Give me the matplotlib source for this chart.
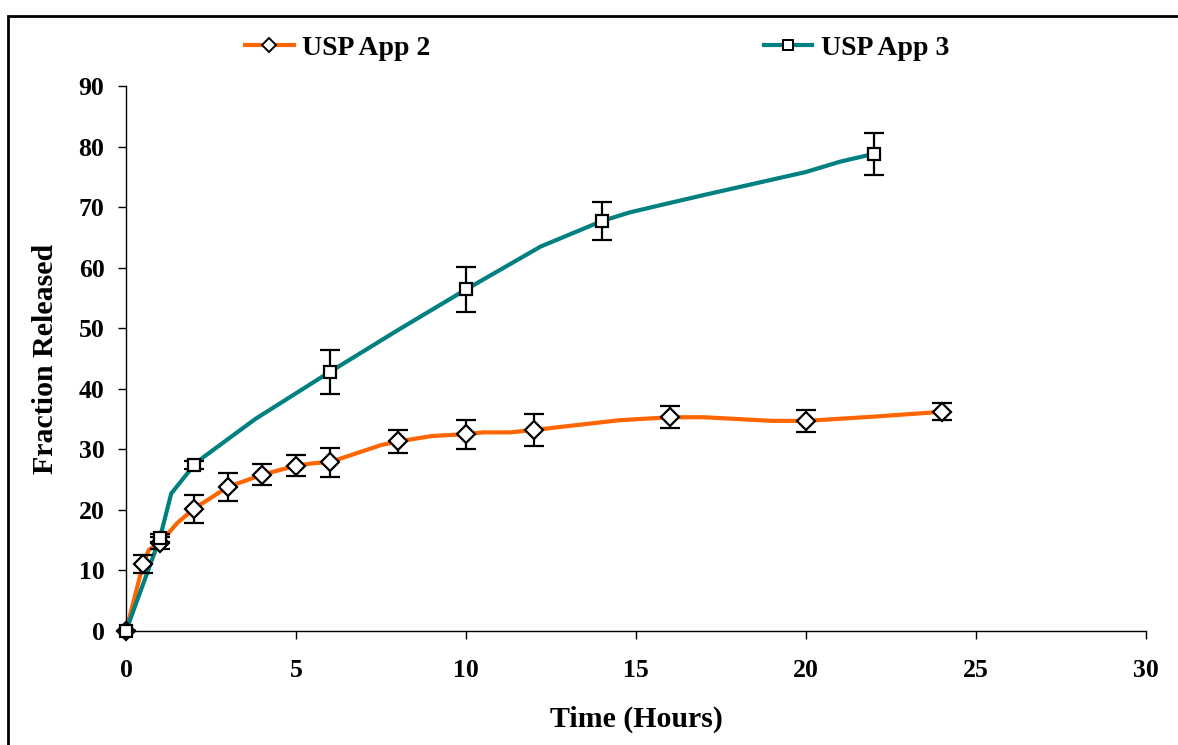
import matplotlib
matplotlib.use("Agg")
import matplotlib.pyplot as plt
from matplotlib.patches import Rectangle
from matplotlib.lines import Line2D

plt.rcParams['font.family'] = ['Liberation Serif', 'DejaVu Serif']
plt.rcParams['font.weight'] = 'bold'

# Smoothed release curves (hours, fraction released)
app2_curve_t = [0, 0.5, 0.67, 1, 1.5, 2, 3, 4, 5, 5.5, 6, 7.5, 8, 9, 10, 10.5, 11.3, 12, 14.5, 16, 17, 19, 20, 22, 24]
app2_curve_y = [0, 11.0, 13.4, 14.5, 17.8, 20.2, 23.8, 25.8, 27.3, 27.7, 27.9, 30.7, 31.3, 32.2, 32.5, 32.8, 32.8, 33.2, 34.8, 35.3, 35.3, 34.7, 34.7, 35.4, 36.2]

app3_curve_t = [0, 1, 1.33, 2, 2.3, 3.8, 6, 8, 10, 12.2, 14, 14.8, 15.7, 17, 20, 21, 22]
app3_curve_y = [0, 15.4, 22.7, 27.4, 28.8, 35.0, 42.8, 49.7, 56.4, 63.5, 67.7, 69.1, 70.3, 72.0, 75.8, 77.5, 78.8]

# Sampled points with standard deviations
app2_t = [0, 0.5, 1, 2, 3, 4, 5, 6, 8, 10, 12, 16, 20, 24]
app2_mean = [0, 11.0, 14.5, 20.2, 23.8, 25.8, 27.3, 27.9, 31.3, 32.5, 33.2, 35.3, 34.7, 36.2]
app2_sd = [0, 1.5, 1.0, 2.3, 2.3, 1.7, 1.75, 2.4, 1.95, 2.4, 2.7, 1.85, 1.85, 1.4]

app3_t = [0, 1, 2, 6, 10, 14, 22]
app3_mean = [0, 15.4, 27.4, 42.8, 56.4, 67.7, 78.8]
app3_sd = [0, 0.7, 0.7, 3.6, 3.65, 3.2, 3.5]

x_ticks = [0, 5, 10, 15, 20, 25, 30]
y_ticks = [0, 10, 20, 30, 40, 50, 60, 70, 80, 90]

orange = '#FF6600'
teal = '#008080'

fig = plt.figure(figsize=(11.78, 7.45), dpi=100)
fig.patches.append(Rectangle((8 / 1178, -0.05), 1.1, 1 - 16 / 745 + 0.05,
                             transform=fig.transFigure, fill=False,
                             edgecolor='black', linewidth=2, zorder=0))

ax = fig.add_axes([126 / 1178, 1 - 631 / 745, 1020 / 1178, 545 / 745])

ax.plot(app2_curve_t, app2_curve_y, color=orange, lw=3, zorder=2, solid_capstyle='round')
ax.plot(app3_curve_t, app3_curve_y, color=teal, lw=3, zorder=2, solid_capstyle='round')

ax.errorbar(app2_t, app2_mean, yerr=app2_sd, fmt='none', ecolor='black',
            elinewidth=1.6, capsize=7, capthick=1.6, zorder=3)
ax.errorbar(app3_t, app3_mean, yerr=app3_sd, fmt='none', ecolor='black',
            elinewidth=1.6, capsize=7, capthick=1.6, zorder=3)

ax.plot(app2_t, app2_mean, linestyle='none', marker='D', markersize=9.5,
        markerfacecolor='white', markeredgecolor='black', markeredgewidth=1.6,
        zorder=4, clip_on=False)
ax.plot(app3_t, app3_mean, linestyle='none', marker='s', markersize=9,
        markerfacecolor='white', markeredgecolor='black', markeredgewidth=1.6,
        zorder=5, clip_on=False)

ax.set_xlim(0, 30)
ax.set_ylim(0, 90)
ax.set_xticks(x_ticks)
ax.set_yticks(y_ticks)
ax.tick_params(direction='out', length=6, width=1, labelsize=18.5)
ax.tick_params(axis='x', pad=14)
ax.tick_params(axis='y', pad=9.5)
for lab in ax.get_xticklabels() + ax.get_yticklabels():
    lab.set_fontweight('bold')
ax.spines['top'].set_visible(False)
ax.spines['right'].set_visible(False)
ax.spines['left'].set_linewidth(1)
ax.spines['bottom'].set_linewidth(1)

ax.set_xlabel('Time (Hours)', fontsize=21.5, fontweight='bold', labelpad=17)
ax.set_ylabel('Fraction Released', fontsize=21.5, fontweight='bold', labelpad=14)

handles = [
    Line2D([], [], color=orange, lw=3, marker='D', markersize=7,
           markerfacecolor='white', markeredgecolor='black', markeredgewidth=1.4),
    Line2D([], [], color=teal, lw=3, marker='s', markersize=7.5,
           markerfacecolor='white', markeredgecolor='black', markeredgewidth=1.4),
]
fig.legend(handles, ['USP App 2', 'USP App 3'], loc='center',
           bbox_to_anchor=(597 / 1178, 1 - 48 / 745), ncol=2, frameon=False,
           prop={'family': 'Liberation Serif', 'weight': 'bold', 'size': 20},
           handlelength=1.75, handletextpad=0.3, columnspacing=12)

fig.savefig('out.png', dpi=100)
